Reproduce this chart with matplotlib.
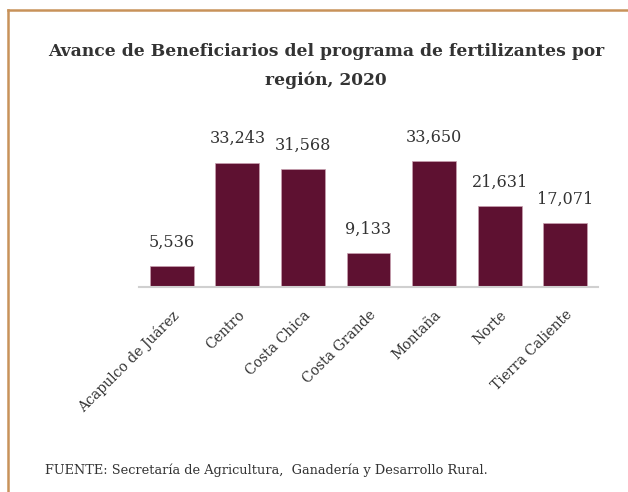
import matplotlib
matplotlib.use("Agg")
from matplotlib import pyplot as plt
from matplotlib.lines import Line2D

regiones = ["Acapulco de Juárez", "Centro", "Costa Chica", "Costa Grande",
            "Montaña", "Norte", "Tierra Caliente"]
beneficiarios = [5536, 33243, 31568, 9133, 33650, 21631, 17071]

bar_color = "#5E1131"
frame_color = "#C8925A"

plt.rcParams["font.family"] = ["DejaVu Serif"]

fig = plt.figure(figsize=(6.28, 4.92), dpi=100)
ax = fig.add_axes([0.2213, 0.4167, 0.731, 0.3394])

x = range(len(regiones))
bars = ax.bar(x, beneficiarios, width=0.67, color=bar_color,
              edgecolor="#C9A0B0", linewidth=0.5)
for xi, v in zip(x, beneficiarios):
    ax.annotate("{:,}".format(v), (xi, v), xytext=(0, 11),
                textcoords="offset points", ha="center", va="bottom",
                fontsize=11.5, color="#333333")

ax.set_xlim(-0.5, len(regiones) - 0.5)
ax.set_ylim(0, 44600)
ax.set_xticks(list(x))
ax.set_xticklabels(regiones, rotation=45, ha="right", rotation_mode="anchor",
                   fontsize=10, color="#333333")
ax.tick_params(axis="x", length=0, pad=15)
ax.set_yticks([])
for side in ["top", "right", "left"]:
    ax.spines[side].set_visible(False)
ax.spines["bottom"].set_color("#D0D0D0")
ax.spines["bottom"].set_linewidth(1.5)

fig.text(0.519, 0.866, "Avance de Beneficiarios del programa de fertilizantes por\nregión, 2020",
         ha="center", va="center", fontsize=12.3, fontweight="bold",
         color="#333333", linespacing=1.8)
fig.text(0.072, 0.045, "FUENTE: Secretaría de Agricultura,  Ganadería y Desarrollo Rural.",
         ha="left", va="center", fontsize=9.3, color="#333333")

# marco superior e izquierdo
fig.add_artist(Line2D([8 / 628, 1.0], [1 - 10 / 492, 1 - 10 / 492],
                      transform=fig.transFigure, color=frame_color, linewidth=1.8))
fig.add_artist(Line2D([8 / 628, 8 / 628], [0, 1 - 10 / 492],
                      transform=fig.transFigure, color=frame_color, linewidth=1.8))

fig.savefig("out.png", dpi=100)
